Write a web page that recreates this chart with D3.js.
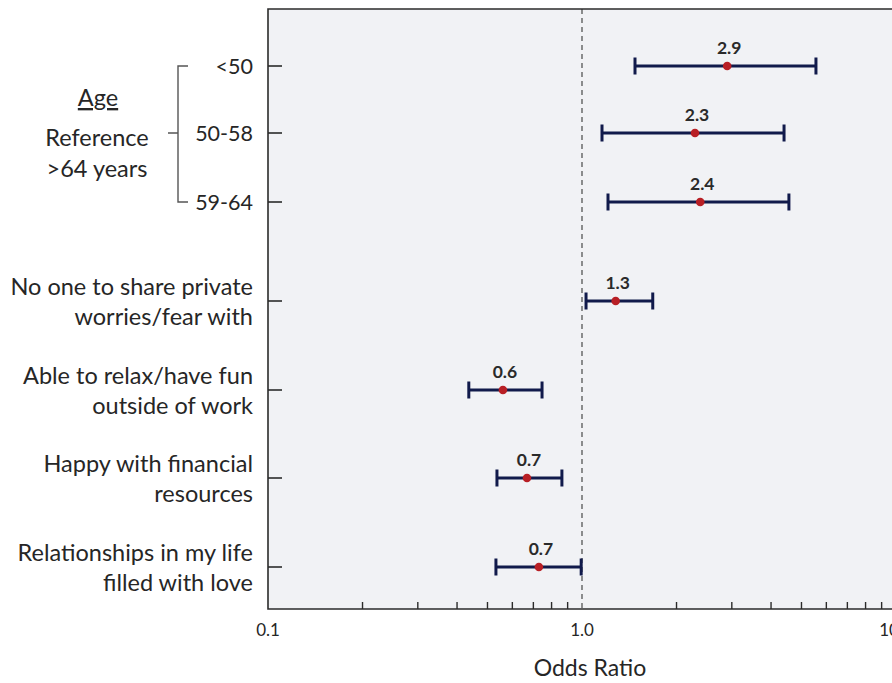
<!DOCTYPE html>
<html><head><meta charset="utf-8">
<script src="https://cdn.jsdelivr.net/npm/d3@7"></script>
<style>html,body{margin:0;padding:0;background:#fff;}svg{display:block;}</style>
</head><body>
<script>
const categories = [
  ["<50"], ["50-58"], ["59-64"],
  ["No one to share private", "worries/fear with"],
  ["Able to relax/have fun", "outside of work"],
  ["Happy with financial", "resources"],
  ["Relationships in my life", "filled with love"]
];
const rowKeys = ["a1","a2","a3","r1","r2","r3","r4"];
const oddsRatio = [2.9, 2.3, 2.4, 1.3, 0.6, 0.7, 0.7];
const pointPos = [2.9, 2.29, 2.38, 1.28, 0.56, 0.668, 0.729];
const ciLow  = [1.475, 1.158, 1.21, 1.03, 0.436, 0.536, 0.532];
const ciHigh = [5.56, 4.40, 4.56, 1.68, 0.746, 0.863, 0.994];
const rowY = [66, 133, 202, 301, 390, 478, 567];
const tickValues = [0.1, 1, 10];
const tickLabels = ["0.1", "1.0", "10.0"];
const minorTicks = [0.2,0.3,0.4,0.5,0.6,0.7,0.8,0.9,2,3,4,5,6,7,8,9];

const W = 892, H = 683;
const svg = d3.select("body").append("svg").attr("width", W).attr("height", H);
const pLeft = 268, pTop = 9, pBottom = 609, pRight = 896;
const x = d3.scaleLog().domain([0.1, 10]).range([pLeft, pRight]);
const y = d3.scaleOrdinal().domain(rowKeys).range(rowY);
const font = "Lato, 'Open Sans', sans-serif";
const txt = "#262626";

svg.append("rect").attr("x", pLeft).attr("y", pTop).attr("width", pRight - pLeft + 10).attr("height", pBottom - pTop)
  .attr("fill", "#f1f2f5");

// dashed reference line
svg.append("line").attr("x1", x(1)).attr("x2", x(1)).attr("y1", pTop).attr("y2", pBottom)
  .attr("stroke", "#555").attr("stroke-width", 1.3).attr("stroke-dasharray", "5,4");

// borders
svg.append("path").attr("d", `M${pRight+10},${pTop}H${pLeft}V${pBottom}H${pRight+10}`)
  .attr("fill", "none").attr("stroke", "#2b2b2b").attr("stroke-width", 1.6);

// bottom minor ticks (inward)
svg.selectAll(".mt").data(minorTicks).join("line")
  .attr("x1", d => x(d)).attr("x2", d => x(d)).attr("y1", pBottom).attr("y2", pBottom - 7)
  .attr("stroke", "#2b2b2b").attr("stroke-width", 1.4);

// tick labels
svg.selectAll(".tl").data(tickValues).join("text")
  .attr("x", d => x(d)).attr("y", 636).attr("text-anchor", "middle")
  .attr("font-family", font).attr("font-size", 17).attr("fill", txt)
  .text((d, i) => tickLabels[i]);

svg.append("text").attr("x", 590).attr("y", 676).attr("text-anchor", "middle")
  .attr("font-family", font).attr("font-size", 23).attr("fill", txt).text("Odds Ratio");

// left ticks
svg.selectAll(".lt").data(rowKeys).join("line")
  .attr("x1", pLeft).attr("x2", pLeft + 14).attr("y1", d => y(d)).attr("y2", d => y(d))
  .attr("stroke", "#2b2b2b").attr("stroke-width", 1.6);

// category labels
rowKeys.forEach((k, i) => {
  const lines = categories[i];
  const n = lines.length;
  const t = svg.append("text").attr("text-anchor", "end").attr("font-family", font)
    .attr("font-size", n > 1 ? 23.5 : 21.5).attr("fill", txt);
  lines.forEach((s, j) => {
    t.append("tspan").attr("x", 253)
      .attr("y", n > 1 ? y(k) - 6 + j * 30 : y(k) + 8)
      .text(s);
  });
});

// bracket
const bx = 178;
svg.append("path").attr("d", `M188,${y("a1")}H${bx}V${y("a3")}H188M${bx},${y("a2")}H168`)
  .attr("fill", "none").attr("stroke", "#555").attr("stroke-width", 1.4);
svg.append("text").attr("x", 98).attr("y", 106).attr("text-anchor", "middle")
  .attr("font-family", font).attr("font-size", 23.5).attr("fill", txt)
  .attr("text-decoration", "underline").text("Age");
svg.append("text").attr("x", 97).attr("y", 146).attr("text-anchor", "middle")
  .attr("font-family", font).attr("font-size", 23.5).attr("fill", txt).text("Reference");
svg.append("text").attr("x", 97).attr("y", 177).attr("text-anchor", "middle")
  .attr("font-family", font).attr("font-size", 23.5).attr("fill", txt).text(">64 years");

// error bars
const navy = "#111a4b";
const g = svg.selectAll(".eb").data(rowKeys).join("g");
g.append("line").attr("x1", (d, i) => x(ciLow[i])).attr("x2", (d, i) => x(ciHigh[i]))
  .attr("y1", d => y(d)).attr("y2", d => y(d)).attr("stroke", navy).attr("stroke-width", 3);
g.append("line").attr("x1", (d, i) => x(ciLow[i])).attr("x2", (d, i) => x(ciLow[i]))
  .attr("y1", d => y(d) - 8.5).attr("y2", d => y(d) + 8.5).attr("stroke", navy).attr("stroke-width", 3);
g.append("line").attr("x1", (d, i) => x(ciHigh[i])).attr("x2", (d, i) => x(ciHigh[i]))
  .attr("y1", d => y(d) - 8.5).attr("y2", d => y(d) + 8.5).attr("stroke", navy).attr("stroke-width", 3);
g.append("circle").attr("cx", (d, i) => x(pointPos[i])).attr("cy", d => y(d)).attr("r", 4.3)
  .attr("fill", "#b81f25");
g.append("text").attr("x", (d, i) => x(pointPos[i]) + 2).attr("y", d => y(d) - 12)
  .attr("text-anchor", "middle").attr("font-family", font).attr("font-weight", "bold")
  .attr("font-size", 17.5).attr("fill", "#2a2a2a").text((d, i) => oddsRatio[i].toFixed(1));
</script>
</body></html>
